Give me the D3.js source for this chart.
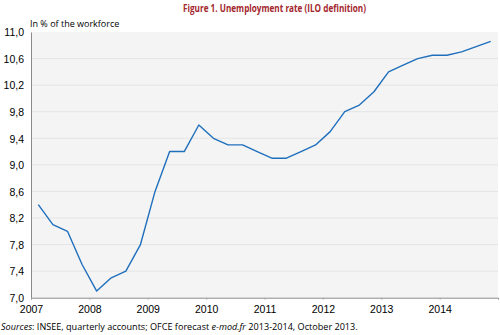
<!DOCTYPE html>
<html>
<head>
<meta charset="utf-8">
<script src="https://cdn.jsdelivr.net/npm/d3@7"></script>
<style>
  html, body { margin: 0; padding: 0; background: #fff; }
  svg { display: block; font-family: "Open Sans", "Liberation Sans", sans-serif; }
</style>
</head>
<body>
<svg id="chart" width="500" height="335"></svg>
<script>
// Quarterly unemployment rate, 2007Q1 – 2014Q4 (forecast from 2013Q3)
const years = [2007, 2008, 2009, 2010, 2011, 2012, 2013, 2014];
const quarters = ["Q1", "Q2", "Q3", "Q4"];
const rate = [
  8.4, 8.1, 8.0, 7.5,
  7.1, 7.3, 7.4, 7.8,
  8.6, 9.2, 9.2, 9.6,
  9.4, 9.3, 9.3, 9.2,
  9.1, 9.1, 9.2, 9.3,
  9.5, 9.8, 9.9, 10.1,
  10.4, 10.5, 10.6, 10.65,
  10.65, 10.7, 10.78, 10.86
];
const yTicks = [7.0, 7.4, 7.8, 8.2, 8.6, 9.0, 9.4, 9.8, 10.2, 10.6, 11.0];

const svg = d3.select("#chart");
const plotLeft = 31, plotRight = 498, plotTop = 32, plotBottom = 297.7;

const x = d3.scaleLinear().domain([2007, 2015]).range([plotLeft, plotRight]);
const y = d3.scaleLinear().domain([7, 11]).range([plotBottom, plotTop]);

const series = rate.map((v, i) => ({
  t: years[Math.floor(i / 4)] + ((i % 4) + 0.5) / 4,
  v
}));

// Title (condensed to the width of the original typeface)
svg.append("text")
  .attr("x", 183).attr("y", 12)
  .attr("fill", "#a3262c")
  .attr("font-weight", "bold")
  .attr("font-size", 10.6)
  .attr("textLength", 183)
  .attr("lengthAdjust", "spacingAndGlyphs")
  .text("Figure 1. Unemployment rate (ILO definition)");

// Plot background
svg.append("rect")
  .attr("x", plotLeft).attr("y", plotTop)
  .attr("width", plotRight - plotLeft).attr("height", plotBottom - plotTop)
  .attr("fill", "#f4f4f4");

// Horizontal gridlines
svg.append("g")
  .selectAll("line")
  .data(yTicks.slice(1, -1))
  .join("line")
  .attr("x1", plotLeft).attr("x2", plotRight)
  .attr("y1", d => y(d)).attr("y2", d => y(d))
  .attr("stroke", "#e4e4e4")
  .attr("stroke-width", 1);

// Y axis
const yAxis = d3.axisLeft(y)
  .tickValues(yTicks)
  .tickSize(0)
  .tickPadding(7)
  .tickFormat(d => d3.format(".1f")(d).replace(".", ","));
const gy = svg.append("g").attr("transform", `translate(${plotLeft},0)`).call(yAxis);
gy.select(".domain").attr("stroke", "#8a8a8a");
gy.selectAll("text").attr("font-size", 10.5).attr("fill", "#000").attr("dy", "0.36em");

// X axis
const xAxis = d3.axisBottom(x)
  .tickValues(years)
  .tickSize(2)
  .tickPadding(6)
  .tickFormat(d3.format("d"));
const gx = svg.append("g").attr("transform", `translate(0,${plotBottom})`).call(xAxis);
gx.select(".domain").attr("stroke", "#8a8a8a");
gx.selectAll(".tick line").attr("stroke", "#aaa");
gx.selectAll("text").attr("font-size", 10.5).attr("fill", "#000");

// Unit label
svg.append("text")
  .attr("x", 30).attr("y", 27)
  .attr("font-size", 9)
  .attr("fill", "#000")
  .text("In % of the workforce");

// Rate line
const line = d3.line().x(d => x(d.t)).y(d => y(d.v));
svg.append("path")
  .datum(series)
  .attr("d", line)
  .attr("fill", "none")
  .attr("stroke", "#1f6fbd")
  .attr("stroke-width", 1.4)
  .attr("stroke-linejoin", "round");

// Source note
const src = svg.append("text")
  .attr("x", 1).attr("y", 330)
  .attr("font-size", 9.1)
  .attr("fill", "#000");
src.append("tspan").attr("font-style", "italic").text("Sources");
src.append("tspan").text(": INSEE, quarterly accounts; OFCE forecast ");
src.append("tspan").attr("font-style", "italic").text("e-mod.fr");
src.append("tspan").text(" 2013-2014, October 2013.");
</script>
</body>
</html>
